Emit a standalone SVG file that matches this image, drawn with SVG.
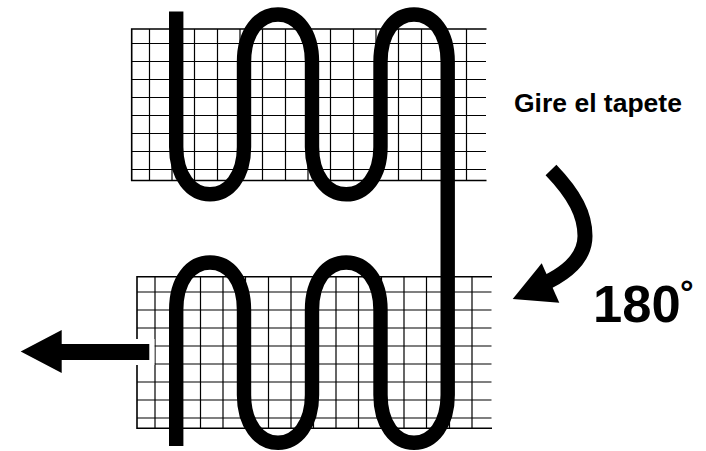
<svg xmlns="http://www.w3.org/2000/svg" width="706" height="451" viewBox="0 0 706 451">
<style>
.g{fill:none;stroke:#000;stroke-width:1.2}
.b{fill:none;stroke:#000;stroke-width:1.6}
.s{fill:none;stroke:#000;stroke-width:14.4}
text{font-family:"Liberation Sans",Arial,Helvetica,sans-serif;font-weight:bold;fill:#000}
</style>
<rect width="706" height="451" fill="#fff"/>
<g id="grid-top">
<path class="g" d="M131 43.5H486M131 61.5H486M131 79.5H486M131 97.5H486M131 115.5H486M131 133.5H486M131 151.5H486M131 169.5H486"/>
<path class="g" d="M149.5 29V180M172 29V180M194.5 29V180M217.5 29V180M240 29V180M262.5 29V180M285.5 29V180M308 29V180M330.5 29V180M353.5 29V180M376 29V180M398.5 29V180M421.5 29V180M444 29V180M466.5 29V180"/>
<path class="b" d="M486.5 29H131.7V180.5H486.5"/>
</g>
<g id="grid-bottom">
<path class="g" d="M137 292H491.5M137 310H491.5M137 328H491.5M137 346H491.5M137 364H491.5M137 382H491.5M137 400H491.5M137 418H491.5"/>
<path class="g" d="M155 277V428M177.5 277V428M200.5 277V428M223 277V428M245.5 277V428M268.5 277V428M291 277V428M313.5 277V428M336 277V428M358.5 277V428M381.5 277V428M404 277V428M426.5 277V428M449.5 277V428M472 277V428"/>
<path class="b" d="M492 276.8H137V428.3H492"/>
</g>
<g id="connectors">
<path id="strip" class="s" d="M176.2 11.5V147C176.200 176 191 194.300 210 194.300C229 194.300 244 176 244 147V62C244 32 259 14.500 278 14.500C297 14.500 312 32 312 62V147C312 176 327 194.300 346.200 194.300C365 194.300 380.500 176 380.500 147V62C380.500 32 395 14.500 414 14.500C433 14.500 447.700 32 447.700 62V395C447.700 424 433 442.800 414 442.800C395 442.800 380.500 424 380.500 395V310C380.500 280 365 262.500 346.200 262.500C327 262.500 312 280 312 310V395C312 424 297 442.800 278 442.800C259 442.800 244 424 244 395V310C244 280 229 262.500 210 262.500C191 262.500 176.200 280 176.200 310V446"/>
<g id="exit-arrow">
<rect x="130" y="339" width="24.5" height="26" fill="#fff"/>
<path d="M149.3 344H61.7V330L20.7 351.500L61.700 373V360H149.300Z"/>
</g>
<g id="turn-arrow">
<path d="M551 170C575 195 585 215 585 236C585 258 568 273 541 285" fill="none" stroke="#000" stroke-width="15"/>
<path d="M512.7 299L541.7 263.3L559.3 302.7Z"/>
</g>
</g>
<text id="label" x="514" y="112" font-size="26.5">Gire el tapete</text>
<text id="angle" x="593" y="321.500" font-size="52.5">180</text>
<text id="degree" x="680" y="303.500" font-size="34">°</text>
</svg>
